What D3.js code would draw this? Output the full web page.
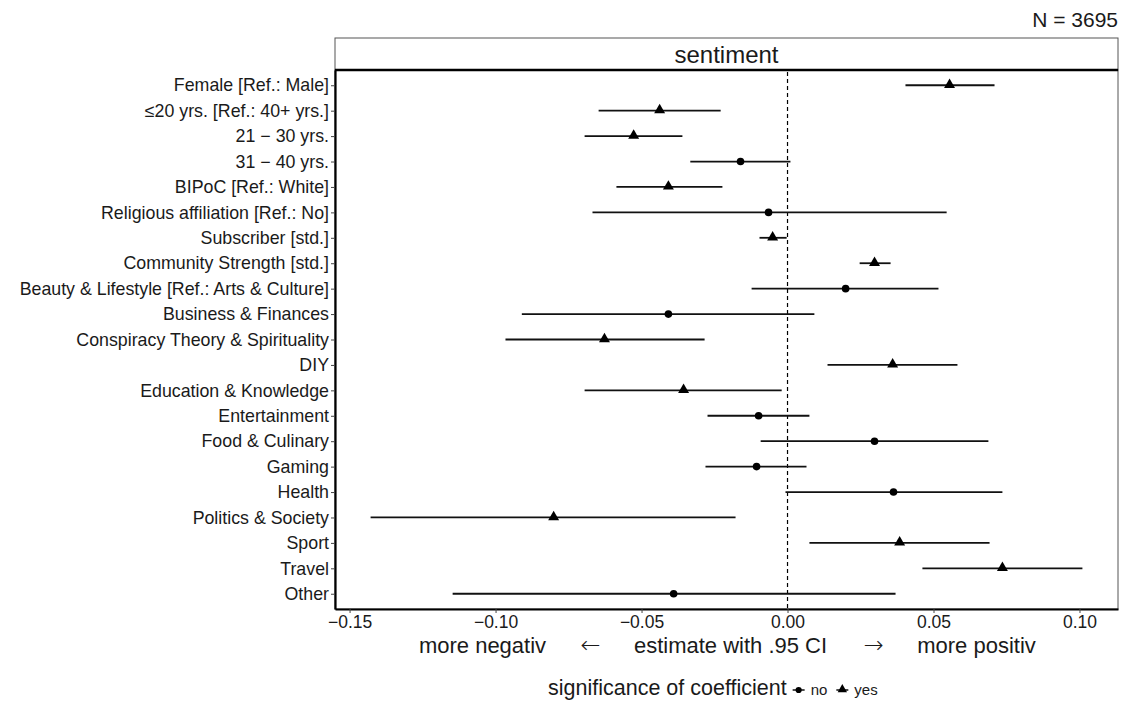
<!DOCTYPE html>
<html>
<head>
<meta charset="utf-8">
<script src="https://cdn.jsdelivr.net/npm/d3@7"></script>
<style>
  body { margin: 0; background: #fff; }
  svg { display: block; font-family: "Liberation Sans", Arial, sans-serif; }
</style>
</head>
<body>
<div id="chart"></div>
<script>
// Data
const terms = [
    "Female [Ref.: Male]",
    "≤20 yrs. [Ref.: 40+ yrs.]",
    "21 − 30 yrs.",
    "31 − 40 yrs.",
    "BIPoC [Ref.: White]",
    "Religious affiliation [Ref.: No]",
    "Subscriber [std.]",
    "Community Strength [std.]",
    "Beauty & Lifestyle [Ref.: Arts & Culture]",
    "Business & Finances",
    "Conspiracy Theory & Spirituality",
    "DIY",
    "Education & Knowledge",
    "Entertainment",
    "Food & Culinary",
    "Gaming",
    "Health",
    "Politics & Society",
    "Sport",
    "Travel",
    "Other"
];
const estimates = [0.0555, -0.0438, -0.0527, -0.0161, -0.0408, -0.0065, -0.0051, 0.0298, 0.0199, -0.0408,
                   -0.0627, 0.0360, -0.0356, -0.0099, 0.0298, -0.0106, 0.0363, -0.0801, 0.0384, 0.0736, -0.0390];
const lower = [0.0404, -0.0647, -0.0695, -0.0333, -0.0586, -0.0668, -0.0096, 0.0247, -0.0123, -0.0910,
               -0.0966, 0.0137, -0.0695, -0.0274, -0.0092, -0.0281, -0.0007, -0.1428, 0.0075, 0.0462, -0.1147];
const upper = [0.0709, -0.0229, -0.0360, 0.0010, -0.0223, 0.0545, -0.0003, 0.0353, 0.0517, 0.0092,
               -0.0284, 0.0582, -0.0020, 0.0075, 0.0688, 0.0065, 0.0736, -0.0178, 0.0692, 0.1010, 0.0370];
const significant = [true, true, true, false, true, false, true, true, false, false,
                     true, true, true, false, false, false, false, true, true, true, false];
const xTicks = [-0.15, -0.10, -0.05, 0.00, 0.05, 0.10];
const sampleSize = 3695;

const rows = terms.map((t, i) => ({ term: t, est: estimates[i], lo: lower[i], hi: upper[i], sig: significant[i] }));

const W = 1123, H = 706;
const panel = { left: 335, right: 1118, top: 70, bottom: 609 };
const strip = { top: 38, bottom: 70 };
const ink = "#1a1a1a";

const svg = d3.select("#chart").append("svg")
    .attr("width", W).attr("height", H);

// scales, ggplot-like 5% expansion
const lo = d3.min(lower), hi = d3.max(upper);
const pad = (hi - lo) * 0.05;
const x = d3.scaleLinear().domain([lo - pad, hi + pad]).range([panel.left, panel.right]);
const y = d3.scalePoint().domain(terms).range([panel.top, panel.bottom]).padding(0.6);

// panel background + border
svg.append("rect")
    .attr("x", panel.left).attr("y", panel.top)
    .attr("width", panel.right - panel.left).attr("height", panel.bottom - panel.top)
    .attr("fill", "#fff").attr("stroke", "#555").attr("stroke-width", 1);

// strip
svg.append("rect")
    .attr("x", panel.left).attr("y", strip.top)
    .attr("width", panel.right - panel.left).attr("height", strip.bottom - strip.top)
    .attr("fill", "#fff").attr("stroke", "#555").attr("stroke-width", 1);
svg.append("text")
    .attr("x", (panel.left + panel.right) / 2).attr("y", 63)
    .attr("text-anchor", "middle").attr("font-size", 24).attr("fill", ink)
    .text("sentiment");
svg.append("line")
    .attr("x1", panel.left).attr("x2", panel.right)
    .attr("y1", panel.top).attr("y2", panel.top)
    .attr("stroke", "#000").attr("stroke-width", 2.5);

// N label
svg.append("text")
    .attr("x", panel.right).attr("y", 27)
    .attr("text-anchor", "end").attr("font-size", 21).attr("fill", ink)
    .text("N = " + sampleSize);

// zero reference line
svg.append("line")
    .attr("x1", x(0)).attr("x2", x(0))
    .attr("y1", panel.top + 2).attr("y2", panel.bottom)
    .attr("stroke", "#000").attr("stroke-width", 1.2)
    .attr("stroke-dasharray", "4,3");

// CI lines
svg.selectAll("line.ci")
    .data(rows)
    .enter()
    .append("line")
    .attr("class", "ci")
    .attr("x1", d => x(d.lo)).attr("x2", d => x(d.hi))
    .attr("y1", d => y(d.term)).attr("y2", d => y(d.term))
    .attr("stroke", "#111").attr("stroke-width", 1.8);

// point estimates
const tri = d3.symbol(d3.symbolTriangle, 52);
svg.selectAll("circle.est")
    .data(rows.filter(d => !d.sig))
    .enter()
    .append("circle")
    .attr("class", "est")
    .attr("cx", d => x(d.est)).attr("cy", d => y(d.term))
    .attr("r", 3.8).attr("fill", "#000");
svg.selectAll("path.est")
    .data(rows.filter(d => d.sig))
    .enter()
    .append("path")
    .attr("class", "est")
    .attr("d", tri)
    .attr("transform", d => `translate(${x(d.est)},${y(d.term) - 0.5})`)
    .attr("fill", "#000");

// axes
const xAxis = svg.append("g")
    .attr("transform", `translate(0,${panel.bottom})`)
    .call(d3.axisBottom(x).tickValues(xTicks).tickFormat(d3.format(".2f")).tickSize(4).tickSizeOuter(0).tickPadding(3));
const yAxis = svg.append("g")
    .attr("transform", `translate(${panel.left},0)`)
    .call(d3.axisLeft(y).tickSize(4).tickSizeOuter(0).tickPadding(2));

[xAxis, yAxis].forEach(g => {
    g.select(".domain").attr("stroke", "#000").attr("stroke-width", 2.2);
    g.selectAll(".tick line").attr("stroke", "#444").attr("stroke-width", 1);
    g.selectAll(".tick text").attr("fill", ink).attr("font-family", "Liberation Sans, Arial, sans-serif");
});
xAxis.selectAll(".tick text").attr("font-size", 17.5);
yAxis.selectAll(".tick text").attr("font-size", 17.8);

// x-axis title
const cx = (panel.left + panel.right) / 2;
const titleParts = [
    { t: "more negativ", dx: -244, arrow: false },
    { t: "←", dx: -136, arrow: true },
    { t: "estimate with .95 CI", dx: 4, arrow: false },
    { t: "→", dx: 147, arrow: true },
    { t: "more positiv", dx: 250, arrow: false }
];
svg.append("g").selectAll("text")
    .data(titleParts)
    .enter()
    .append("text")
    .attr("x", d => cx + d.dx).attr("y", 653)
    .attr("text-anchor", "middle")
    .attr("font-size", d => d.arrow ? 24 : 22)
    .attr("font-family", d => d.arrow ? "DejaVu Sans" : null)
    .attr("font-weight", d => d.arrow ? 300 : null)
    .attr("fill", ink)
    .text(d => d.t);

// legend
const leg = svg.append("g").attr("transform", "translate(548,695)");
const legTitle = leg.append("text")
    .attr("x", 0).attr("y", 0).attr("font-size", 21.5).attr("fill", ink)
    .text("significance of coefficient");
let lx = legTitle.node().getComputedTextLength() + 6;
const keys = [{ lab: "no", sig: false }, { lab: "yes", sig: true }];
keys.forEach(k => {
    const kc = lx + 6;
    leg.append("line")
        .attr("x1", kc - 6).attr("x2", kc + 6)
        .attr("y1", -5).attr("y2", -5)
        .attr("stroke", "#111").attr("stroke-width", 1.5);
    if (k.sig) {
        leg.append("path").attr("d", d3.symbol(d3.symbolTriangle, 38))
            .attr("transform", `translate(${kc},-5.5)`).attr("fill", "#000");
    } else {
        leg.append("circle").attr("cx", kc).attr("cy", -5).attr("r", 3.1).attr("fill", "#000");
    }
    const t = leg.append("text")
        .attr("x", kc + 12).attr("y", 0).attr("font-size", 15).attr("fill", ink)
        .text(k.lab);
    lx = kc + 12 + t.node().getComputedTextLength() + 9;
});
</script>
</body>
</html>
